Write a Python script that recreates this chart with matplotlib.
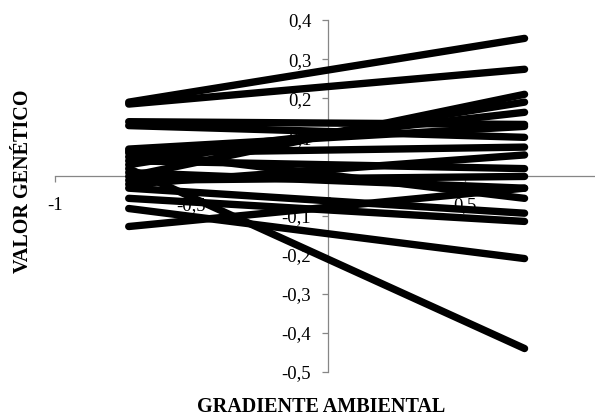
import matplotlib.pyplot as plt
import numpy as np

# environmental gradient endpoints (reaction norms)
x_ends = [-0.73, 0.72]

# genetic value at left / right end of each line
left_vals = [0.19, 0.185, 0.14, 0.13, 0.00, 0.03, 0.05, 0.07, 0.06, -0.02,
             0.04, -0.01, 0.01, -0.03, -0.056, -0.128, -0.082, 0.02, 0.065]
right_vals = [0.353, 0.274, 0.133, 0.10, 0.21, 0.19, 0.164, 0.128, 0.075, 0.055,
              0.02, 0.0, -0.03, -0.094, -0.115, -0.03, -0.21, -0.44, -0.056]

# the "1" tick falls just outside the picture, so it is left out
x_ticks = [-1, -0.5, 0, 0.5]
x_ticklabels = ["-1", "-0,5", "0", "0,5"]
y_ticks = [-0.5, -0.4, -0.3, -0.2, -0.1, 0, 0.1, 0.2, 0.3, 0.4]
y_ticklabels = ["-0,5", "-0,4", "-0,3", "-0,2", "-0,1", "0", "0,1", "0,2", "0,3", "0,4"]

plt.rcParams['font.family'] = ['Liberation Serif', 'DejaVu Serif']

fig = plt.figure(figsize=(5.95, 4.16), dpi=100)
ax = fig.add_axes([55 / 595, 44 / 416, 546 / 595, 352 / 416])

for yl, yr in zip(left_vals, right_vals):
    ax.plot(x_ends, [yl, yr], color='black', lw=5.3,
            solid_capstyle='round', zorder=3)

ax.set_xlim(-1, 1)
ax.set_ylim(-0.5, 0.4)

ax.spines['left'].set_position('zero')
ax.spines['bottom'].set_position('zero')
ax.spines['right'].set_visible(False)
ax.spines['top'].set_visible(False)
for s in ['left', 'bottom']:
    ax.spines[s].set_color('#868686')
    ax.spines[s].set_linewidth(0.9)

ax.set_xticks(x_ticks)
ax.set_xticklabels(x_ticklabels)
ax.set_yticks(y_ticks)
ax.set_yticklabels(y_ticklabels)
ax.tick_params(axis='both', direction='out', length=4, width=0.9,
               color='#868686', labelsize=13.5)
ax.tick_params(axis='x', pad=11)
ax.tick_params(axis='y', pad=8)
ax.patch.set_visible(False)

fig.text(321 / 595, 1 - 407 / 416, "GRADIENTE AMBIENTAL", ha='center', va='center',
         fontsize=14.5, fontweight='bold')
fig.text(23 / 595, 1 - 181 / 416, "VALOR GENÉTICO", ha='center', va='center',
         rotation=90, fontsize=14.5, fontweight='bold')

fig.savefig("out.png", dpi=100)
